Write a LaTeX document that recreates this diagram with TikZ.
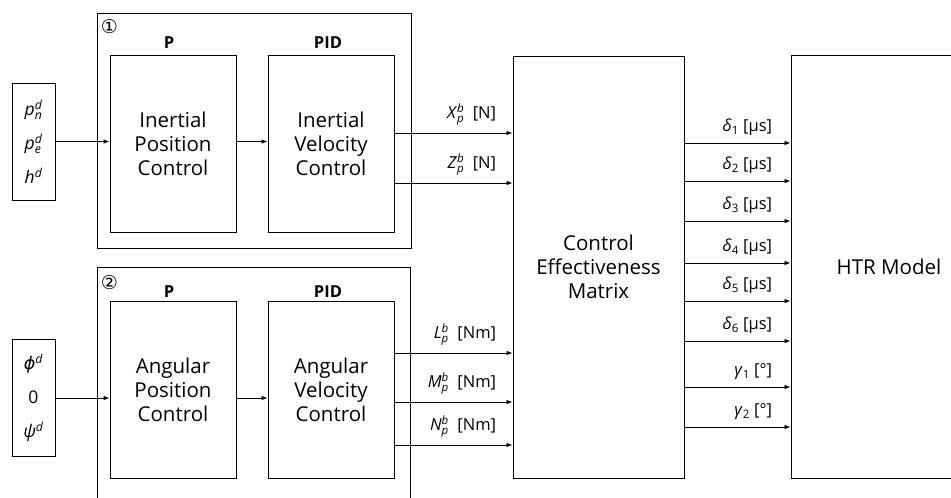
\documentclass[tikz,border=0pt]{standalone}
\usepackage{amsmath}
\usepackage{fontspec}
\setmainfont{Open Sans}
\newfontfamily\circfont{DejaVu Sans}
\usetikzlibrary{arrows.meta,positioning}

\newcommand{\forcesym}[3]{\textit{#1}$^{\textit{#2}}_{\textit{#3}}$}
\newcommand{\servosym}[2]{\textit{#1}$_{\text{#2}}$}

\begin{document}
\begin{tikzpicture}[
    x=1pt, y=-1pt,
    block/.style={draw, line width=1pt, align=center, minimum width=126pt, minimum height=177pt, font=\fontsize{20.5}{24}\selectfont},
    group/.style={draw, line width=1pt, inner sep=0pt},
    input/.style={draw, line width=1pt, align=center, inner sep=0pt, minimum width=43pt, minimum height=117pt, font=\fontsize{17.5}{34}\selectfont},
    gain/.style={font=\bfseries\fontsize{16.5}{20}\selectfont},
    tag/.style={inner sep=0pt, font=\circfont\fontsize{19}{19}\selectfont},
    sig/.style={pos=1, anchor=south east, inner sep=0pt, yshift=7pt, font=\fontsize{16.5}{20}\selectfont},
    arrow/.style={-{Latex[length=6pt,width=4.5pt]}, line width=0.8pt}
]
\useasboundingbox (0,0) rectangle (951,498);
\clip (0,0) rectangle (951,498);

% loop groups
\node[group, minimum width=314pt, minimum height=235pt] (grp1) at (254,130.5) {};
\node[group, minimum width=313pt, minimum height=258pt] (grp2) at (253.5,396) {};
\node[tag] (tag1) at ([shift={(13,14)}]grp1.north west) {①};
\node[tag] (tag2) at ([shift={(13,16)}]grp2.north west) {②};

% inputs
\node[input] (inp1) at (33.5,141.5) {\forcesym{p}{d}{n}\\\forcesym{p}{d}{e}\\\textit{h}$^{\textit{d}}$};
\node[input] (inp2) at (33.5,398) {{\circfont\itshape ϕ}$^{\textit{d}}$\\0\\\textit{ψ}$^{\textit{d}}$};

% controllers
\node[block] (ipos) at (173,143.5) {Inertial\\Position\\Control};
\node[block, right=31pt of ipos] (ivel) {Inertial\\Velocity\\Control};
\node[block] (apos) at (173,390) {Angular\\Position\\Control};
\node[block, right=31pt of apos] (avel) {Angular\\Velocity\\Control};

\node[gain, above=2pt of ipos, xshift=-4pt] (kp1) {P};
\node[gain, above=2pt of ivel, xshift=-3pt] (kpid1) {PID};
\node[gain, above=0pt of apos, xshift=-4pt] (kp2) {P};
\node[gain, above=0pt of avel, xshift=-3pt] (kpid2) {PID};

% allocation and plant
\node[block, minimum width=171pt, minimum height=422pt] (cem) at (598.5,267) {Control\\Effectiveness\\Matrix};
\node[block, right=106pt of cem, minimum width=196pt, minimum height=423pt] (htr) {HTR Model};

\draw[arrow] (inp1.east) -- (inp1.east -| ipos.west);
\draw[arrow] (ipos.east |- inp1.east) -- (ivel.west |- inp1.east);
\draw[arrow] (inp2.east) -- (inp2.east -| apos.west);
\draw[arrow] (apos.east |- inp2.east) -- (avel.west |- inp2.east);

\foreach \y/\lab in {133/{\forcesym{X}{b}{p}\ \ [N]}, 183/{\forcesym{Z}{b}{p}\ \ [N]}}
    \draw[arrow] (ivel.east |- 0,\y) -- (cem.west |- 0,\y) node[sig, xshift=-16pt] {\lab};
\foreach \y/\lab in {353/{\forcesym{L}{b}{p}\ \ [Nm]}, 402/{\forcesym{M}{b}{p}\ \ [Nm]}, 445/{\forcesym{N}{b}{p}\ \ [Nm]}}
    \draw[arrow] (avel.east |- 0,\y) -- (cem.west |- 0,\y) node[sig, xshift=-16pt] {\lab};

\foreach \y/\lab in {143/{\servosym{δ}{1} [μs]}, 181/{\servosym{δ}{2} [μs]}, 221/{\servosym{δ}{3} [μs]},
                     263/{\servosym{δ}{4} [μs]}, 301/{\servosym{δ}{5} [μs]}, 341/{\servosym{δ}{6} [μs]},
                     387/{\servosym{γ}{1} [°]}, 427/{\servosym{γ}{2} [°]}}
    \draw[arrow] (cem.east |- 0,\y) -- (htr.west |- 0,\y) node[sig, xshift=-18pt] {\lab};
\end{tikzpicture}
\end{document}
